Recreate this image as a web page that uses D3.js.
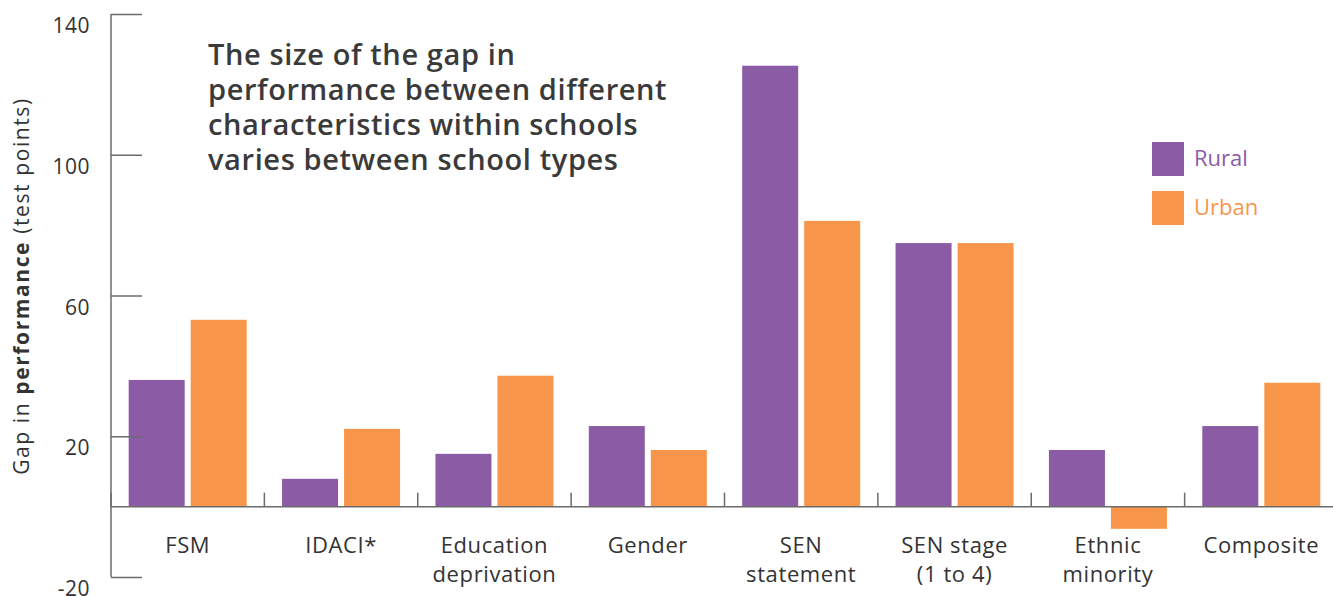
<!DOCTYPE html>
<html><head><meta charset="utf-8">
<script src="https://cdn.jsdelivr.net/npm/d3@7"></script>
<style>
body{margin:0;background:#fff;}
text{font-family:"Open Sans",sans-serif;}
</style></head>
<body>
<svg id="chart" width="1333" height="596"></svg>
<script>
const categories = [["FSM"],["IDACI*"],["Education","deprivation"],["Gender"],["SEN","statement"],["SEN stage","(1 to 4)"],["Ethnic","minority"],["Composite"]];
const seriesNames = ["Rural","Urban"];
const rural = [36.0, 7.9, 15.0, 22.9, 125.3, 74.9, 16.1, 22.9];
const urban = [53.1, 22.1, 37.2, 16.1, 81.2, 74.9, -6.3, 35.2];
const yTicks = [-20, 20, 60, 100, 140];
const titleLines = ["The size of the gap in","performance between different","characteristics within schools","varies between school types"];
const colors = {Rural:"#8C5BA5", Urban:"#F7964A"};

const svg = d3.select("#chart");
const axisColor = "#6b6b6b";
const textColor = "#333";

const y = d3.scaleLinear().domain([-20,140]).range([577,14]);
const x0 = d3.scaleBand().domain(d3.range(categories.length)).range([111,1338]).padding(0);
const x1 = d3.scaleBand().domain(seriesNames).range([0,x0.bandwidth()]).paddingInner(0.097).paddingOuter(0.285);

const data = categories.map((c,i)=>({i, vals:[{s:"Rural",v:rural[i]},{s:"Urban",v:urban[i]}]}));

// bars
const g = svg.append("g");
g.selectAll("g.cat").data(data).join("g").attr("class","cat")
 .attr("transform",d=>`translate(${x0(d.i)},0)`)
 .selectAll("rect").data(d=>d.vals).join("rect")
 .attr("x",d=>x1(d.s)).attr("width",x1.bandwidth())
 .attr("y",d=>y(Math.max(0,d.v))).attr("height",d=>Math.abs(y(d.v)-y(0)))
 .attr("fill",d=>colors[d.s]);

// y axis
const yAxis = d3.axisRight(y).tickValues(yTicks).tickSize(31).tickFormat("");
const ya = svg.append("g").attr("transform","translate(111,0)").call(yAxis);
ya.select(".domain").attr("stroke",axisColor).attr("stroke-width",1.5).attr("d",`M0,${y(140)}V${y(-20)}`);
ya.selectAll(".tick line").attr("stroke",axisColor).attr("stroke-width",1.5);
svg.append("g").selectAll("text").data(yTicks).join("text")
 .attr("x",90).attr("y",d=>y(d)+19).attr("text-anchor","end")
 .attr("font-size",21).attr("letter-spacing",0.5).attr("fill",textColor).text(d=>d);

// zero line
svg.append("line").attr("x1",111).attr("x2",1333).attr("y1",y(0)).attr("y2",y(0))
 .attr("stroke",axisColor).attr("stroke-width",1.5);
// category separators
svg.append("g").selectAll("line").data(d3.range(categories.length)).join("line")
 .attr("x1",d=>x0(d)).attr("x2",d=>x0(d)).attr("y1",y(0)).attr("y2",y(0)-14)
 .attr("stroke",axisColor).attr("stroke-width",1.5);

// category labels
const cl = svg.append("g").selectAll("text").data(categories).join("text")
 .attr("text-anchor","middle").attr("font-size",22).attr("letter-spacing",0.6).attr("fill",textColor)
 .attr("transform",(d,i)=>`translate(${x0(i)+x0.bandwidth()/2},553)`);
cl.selectAll("tspan").data(d=>d).join("tspan").attr("x",0).attr("dy",(d,j)=>j===0?0:29).text(d=>d);

// y label
const yl = svg.append("text").attr("transform","translate(29,286) rotate(-90)")
 .attr("text-anchor","middle").attr("font-size",21).attr("letter-spacing",1.6).attr("fill",textColor);
yl.append("tspan").text("Gap in ");
yl.append("tspan").attr("font-weight",700).text("performance");
yl.append("tspan").text(" (test points)");

// title
svg.append("g").selectAll("text").data(titleLines).join("text")
 .attr("x",208).attr("y",(d,i)=>65+i*35).attr("font-size",29).attr("font-weight",600)
 .attr("letter-spacing",0.6).attr("fill","#3a3a3a").text(d=>d);

// legend
const lg = svg.append("g").selectAll("g").data(seriesNames).join("g")
 .attr("transform",(d,i)=>`translate(1152,${142+i*49})`);
lg.append("rect").attr("width",32).attr("height",34).attr("fill",d=>colors[d]);
lg.append("text").attr("x",42).attr("y",24).attr("font-size",22).attr("fill",d=>colors[d]).text(d=>d);
</script>
</body></html>
